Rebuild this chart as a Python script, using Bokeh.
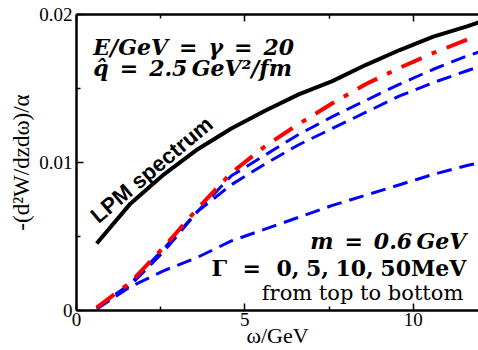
from bokeh.plotting import figure
from bokeh.models import Range1d, LinearAxis, FixedTicker, Label, ColumnDataSource
from bokeh.embed import file_html
from bokeh.resources import INLINE

# ---- data ----
omega = [0.6, 1.6, 2.6, 3.6, 4.6, 5.6, 6.6, 7.6, 8.6, 9.6, 10.6, 11.6, 12.0]
lpm = [0.00453, 0.00722, 0.0092, 0.0109, 0.0123, 0.0135, 0.0146, 0.0155,
       0.0166, 0.0176, 0.0185, 0.0192, 0.0195]
gamma5 = [0.0002, 0.0018, 0.0042, 0.0067, 0.0091, 0.0105, 0.0119, 0.0131,
          0.0142, 0.0153, 0.0163, 0.0172, 0.0175]
gamma10 = [0.0002, 0.0017, 0.0040, 0.0067, 0.0085, 0.0099, 0.0112, 0.0123,
           0.0134, 0.0145, 0.0154, 0.0162, 0.0165]
gamma50 = [0.0001, 0.0016, 0.0027, 0.0036, 0.0047, 0.0055, 0.0063, 0.0071,
           0.0078, 0.0085, 0.0092, 0.0098, 0.0100]
omega_red = [0.6, 1.6, 2.6, 3.6, 4.6, 5.6, 6.6, 7.6, 8.6, 9.6, 10.6, 11.6]
gamma0 = [0.0002, 0.0019, 0.0043, 0.0069, 0.0093, 0.0111, 0.0126, 0.0140,
          0.0153, 0.0164, 0.0174, 0.0183]

x_major = [0, 5, 10]
x_minor = [2.5, 7.5]
x_labels = ["0", "5", "10"]
y_major = [0, 0.01, 0.02]
y_minor = [0.005, 0.015]
y_labels = ["0", "0.01", "0.02"]

SERIF = "Liberation Serif"
MATH = "DejaVu Serif"
SP = "\u2002"          # wide math space around '='
SP2 = "\u2002\u2009"   # slightly wider
TH = "\u2009"          # thin space
CS = "\u2009\u200a"    # space after commas

p = figure(width=478, height=350, output_backend="svg", toolbar_location=None,
           x_range=Range1d(0, 11.94), y_range=Range1d(0, 0.02),
           min_border_left=76, min_border_right=0, min_border_top=14,
           min_border_bottom=40)
p.outline_line_color = None
p.grid.visible = False

xt = FixedTicker(ticks=x_major, minor_ticks=x_minor)
yt = FixedTicker(ticks=y_major, minor_ticks=y_minor)


def style_axis(ax, ticker, labels=None, visible_labels=True):
    ax.ticker = ticker
    ax.axis_line_width = 2.5
    ax.axis_line_color = "black"
    ax.major_tick_in = 7
    ax.major_tick_out = 0
    ax.minor_tick_in = 4
    ax.minor_tick_out = 0
    ax.major_tick_line_width = 1.5
    ax.minor_tick_line_width = 1.5
    if visible_labels:
        ax.major_label_overrides = {v: s for v, s in zip(ticker.ticks, labels)}
        ax.major_label_text_font = SERIF
        ax.major_label_text_font_size = "19px"
        ax.major_label_text_color = "black"
    else:
        ax.major_label_text_font_size = "1px"
        ax.major_label_text_color = None
        ax.major_label_standoff = 0


style_axis(p.xaxis[0], xt, x_labels)
style_axis(p.yaxis[0], yt, y_labels)
p.xaxis[0].major_label_standoff = 2
p.yaxis[0].major_label_standoff = 4

p.xaxis[0].axis_label = "ω/GeV"
p.yaxis[0].axis_label = "-(d²W/dzdω)/α"
for ax in (p.xaxis[0], p.yaxis[0]):
    ax.axis_label_text_font = SERIF
    ax.axis_label_text_font_style = "normal"
    ax.axis_label_text_color = "black"
p.xaxis[0].axis_label_text_font_size = "22px"
p.xaxis[0].axis_label_standoff = -6
p.yaxis[0].axis_label_text_font_size = "23px"
p.yaxis[0].axis_label_standoff = 2

top = LinearAxis()
style_axis(top, FixedTicker(ticks=x_major, minor_ticks=x_minor), visible_labels=False)
p.add_layout(top, "above")

# ---- curves ----
src = ColumnDataSource(dict(omega=omega, lpm=lpm, g5=gamma5, g10=gamma10, g50=gamma50))
src_red = ColumnDataSource(dict(omega=omega_red, g0=gamma0))

p.line("omega", "g50", source=src, line_color="#0000ff", line_width=3, line_dash="15 8")
p.line("omega", "g10", source=src, line_color="#0000ff", line_width=3, line_dash="15 8")
p.line("omega", "g5", source=src, line_color="#0000ff", line_width=3, line_dash="15 8")
p.line("omega", "g0", source=src_red, line_color="#ff0000", line_width=4, line_dash="22 11 5 11")
p.line("omega", "lpm", source=src, line_color="black", line_width=4)


# ---- annotations ----
def add_text(x, y, text, font, style, size, align="left", angle=0.0):
    p.add_layout(Label(x=x, y=y, text=text, text_font=font, text_font_style=style,
                       text_font_size=size, text_align=align, text_color="black",
                       text_baseline="alphabetic", angle=angle, angle_units="rad"))


add_text(0.5, 0.01778, "E/GeV" + SP + "=" + SP + "γ" + SP + "=" + SP + "20",
         MATH, "bold italic", "22px")
add_text(0.5, 0.01636, "q̂" + SP + "=" + SP + "2.5" + TH + "GeV²/fm",
         MATH, "bold italic", "22px")
add_text(11.58, 0.00471, "m" + SP + "=" + SP + "0.6" + TH + "GeV",
         MATH, "bold italic", "22px", "right")
add_text(11.58, 0.0029, "Γ" + SP2 + "=" + SP2 + "0," + CS + "5," + CS + "10," + CS + "50MeV",
         MATH, "bold", "22px", "right")
add_text(11.49, 0.00117, "from top to bottom", MATH, "normal", "21px", "right")
add_text(0.51, 0.00622, "LPM spectrum", "Liberation Sans", "bold", "22px", angle=0.70)

open("out.html", "w").write(file_html(p, INLINE))
